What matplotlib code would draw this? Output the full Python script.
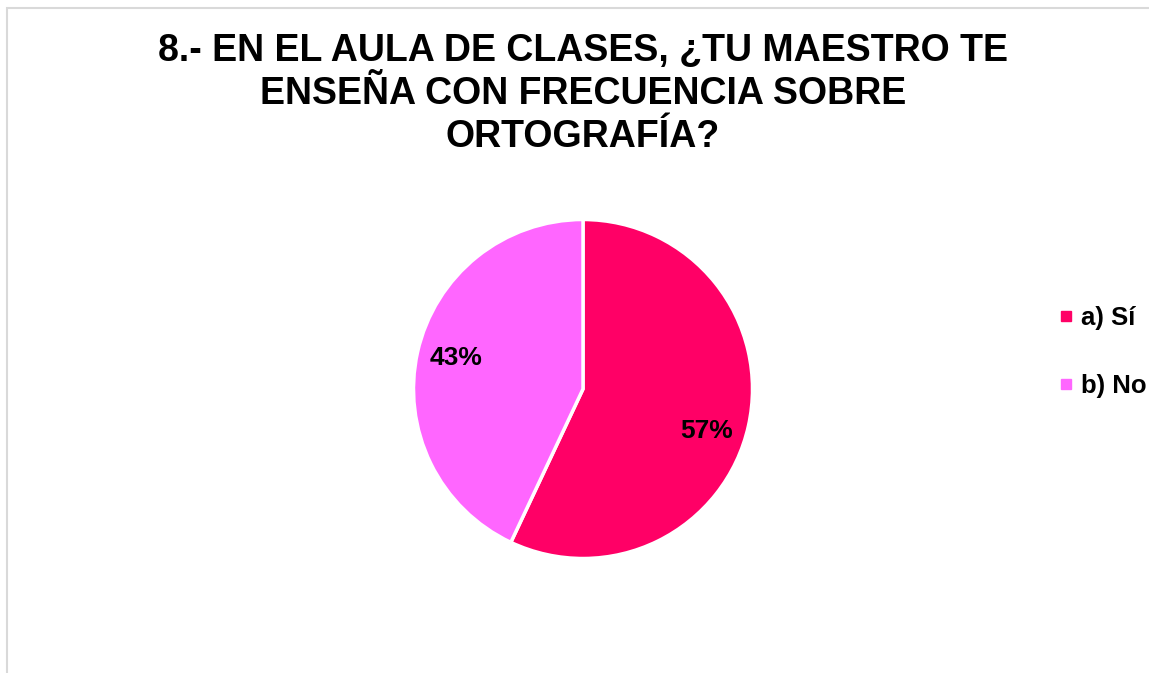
import matplotlib
matplotlib.use("Agg")
import numpy as np
import matplotlib.pyplot as plt
from matplotlib.patches import Rectangle
from matplotlib.lines import Line2D

labels = ["a) Sí", "b) No"]
values = [57, 43]
colors = ["#FF0066", "#FF66FF"]
title = "8.- EN EL AULA DE CLASES, ¿TU MAESTRO TE\nENSEÑA CON FRECUENCIA SOBRE\nORTOGRAFÍA?"

plt.rcParams['font.family'] = ['Liberation Sans', 'DejaVu Sans']

W, H = 1149, 673
fig = plt.figure(figsize=(W / 100, H / 100), dpi=100)

# light grey chart-area border
fig.patches.append(Rectangle((7 / W, -0.1), 1.2, (H - 8) / H + 0.1, transform=fig.transFigure,
                             fill=False, edgecolor="#D9D9D9", lw=1.5))

cx, cy, r = 583, 389, 169.5
ax = fig.add_axes([(cx - r) / W, (H - cy - r) / H, 2 * r / W, 2 * r / H])
wedges, texts, autotexts = ax.pie(values, colors=colors, startangle=90, counterclock=False,
                                  autopct="%1.0f%%", pctdistance=0.77, radius=1,
                                  wedgeprops=dict(edgecolor="white", linewidth=2.5),
                                  textprops=dict(fontsize=19, fontweight="bold", color="black"))
ax.set_xlim(-1, 1)
ax.set_ylim(-1, 1)
ax.set_aspect("equal")

# nudge the labels a bit like excel does
shift = [-6, -1]
for w, t, s in zip(wedges, autotexts, shift):
    a = np.deg2rad((w.theta1 + w.theta2) / 2 + s)
    t.set_position((0.77 * np.cos(a), 0.77 * np.sin(a)))

fig.text(cx / W, 1 - 94 / H, title, ha="center", va="center", fontsize=27,
         fontweight="bold", linespacing=1.24)

handles = [Line2D([], [], ls="none", marker="s", markersize=7.5, color=c) for c in colors]
fig.legend(handles, labels, loc="center left", bbox_to_anchor=(1060 / W, 1 - 352 / H),
           frameon=False, borderpad=0, borderaxespad=0,
           handlelength=0.45, handletextpad=0.35,
           labelspacing=1.75, prop=dict(size=18.5, weight="bold"))

fig.savefig("out.png", dpi=100)
